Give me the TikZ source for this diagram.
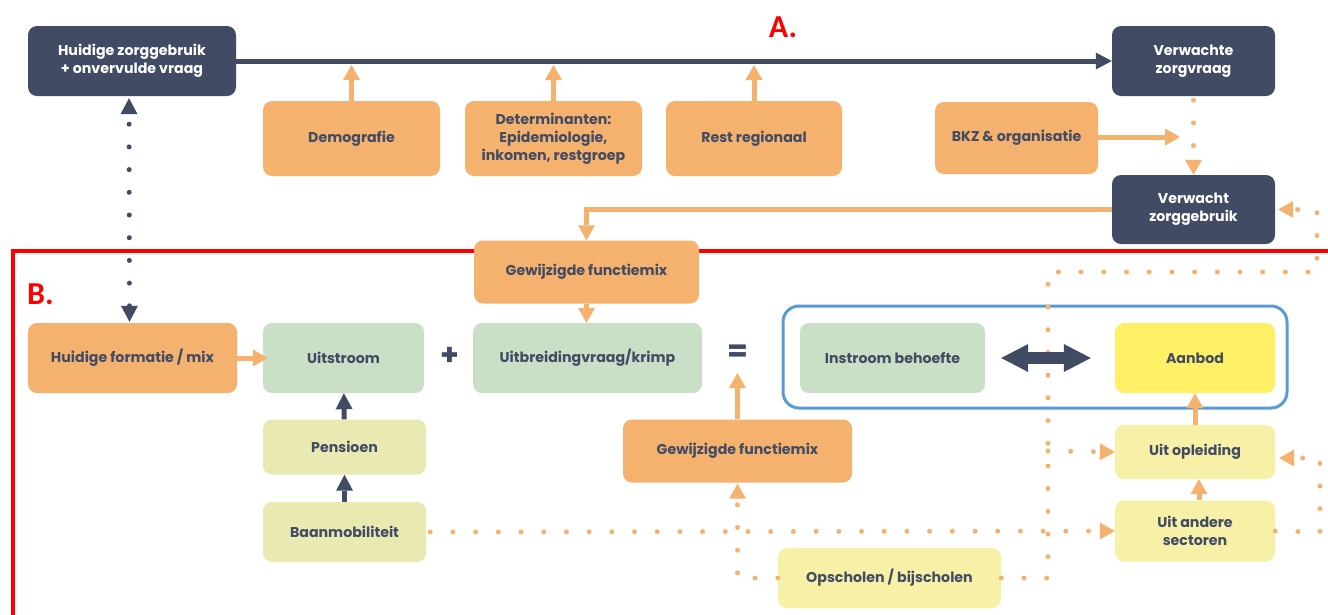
\documentclass[tikz,border=0pt]{standalone}
\usepackage{fontspec}
\setmainfont{Poppins}
\newfontfamily\labfont{Carlito}
\usetikzlibrary{arrows.meta,calc}
\definecolor{navy}{HTML}{414B63}
\definecolor{orng}{HTML}{F5B26F}
\definecolor{grn}{HTML}{C9E0C6}
\definecolor{yel}{HTML}{FFF066}
\definecolor{lyel}{HTML}{F7F1A7}
\definecolor{pyel}{HTML}{E9E9B2}
\definecolor{frameblue}{HTML}{5B9BD5}
\definecolor{redline}{HTML}{FF0000}
\tikzset{
  basebox/.style={rounded corners=9pt, inner sep=0pt, align=center,
    font=\bfseries\fontsize{14.2}{18}\selectfont, text=navy},
  darkbox/.style={basebox, fill=navy, text=white},
  obox/.style={basebox, fill=orng},
  gbox/.style={basebox, fill=grn},
  ybox/.style={basebox, fill=yel},
  lybox/.style={basebox, fill=lyel},
  pbox/.style={basebox, fill=pyel},
  sym/.style={inner sep=0pt, text=navy, font=\bfseries\fontsize{30}{30}\selectfont},
  seclabel/.style={inner sep=0pt, text=redline, font=\labfont\bfseries\fontsize{32}{32}\selectfont},
  otip/.tip={Triangle[length=15pt,width=17pt,line width=0pt]},
  dtip/.tip={Triangle[length=16pt,width=17pt,line width=0pt]},
  oarr/.style={draw=orng, line width=5pt, -{otip}, color=orng},
  darr/.style={draw=navy, line width=5pt, -{dtip}, color=navy},
  odots/.style={draw=orng, color=orng, line width=5pt, line cap=round, dash pattern=on 0pt off 22.7pt},
  ddots/.style={draw=navy, color=navy, line width=5pt, line cap=round, dash pattern=on 0pt off 22.7pt},
}
\begin{document}
\begin{tikzpicture}[x=1pt,y=-1pt]
\useasboundingbox[fill=white] (0,0) rectangle (1328,614);
% red section frame
\draw[redline, line width=4pt] (12.5,616) -- (12.5,250.5) -- (1330,250.5);
% part A
\node[darkbox, minimum width=208, minimum height=70] (hz) at (132,61) {Huidige zorggebruik\\+ onvervulde vraag};
\node[darkbox, minimum width=163, minimum height=70] (vzv) at (1193.5,61) {Verwachte\\zorgvraag};
\node[obox, minimum width=177, minimum height=75] (demo) at (351.5,138.5) {Demografie};
\node[obox, minimum width=177, minimum height=75] (det) at (553.5,138.5) {Determinanten:\\Epidemiologie,\\inkomen, restgroep};
\node[obox, minimum width=176, minimum height=75] (rest) at (754,138.5) {Rest regionaal};
\node[obox, minimum width=163, minimum height=72] (bkz) at (1016.5,138) {BKZ \& organisatie};
\node[darkbox, minimum width=163, minimum height=69] (vzg) at (1193.5,209.5) {Verwacht\\zorggebruik};
\node[seclabel] (A) at (783,27) {A.};
% part B
\node[seclabel, anchor=west] (B) at (27,294) {B.};
\node[obox, minimum width=225, minimum height=63] (gf1) at (586.5,272) {Gewijzigde functiemix};
\node[obox, minimum width=209, minimum height=70] (hf) at (132.5,358) {Huidige formatie / mix};
\node[gbox, minimum width=161, minimum height=70] (uit) at (343.5,358) {Uitstroom};
\node[sym] (plus) at (450,356) {+};
\node[gbox, minimum width=229, minimum height=70] (ubv) at (587.5,358) {Uitbreidingvraag/krimp};
\node[sym] (eq) at (737.5,353) {=};
\node[draw=frameblue, line width=3pt, rounded corners=16pt, minimum width=504, minimum height=102] (frame) at (1035,357) {};
\node[gbox, minimum width=185, minimum height=70] (ib) at (892.5,358) {Instroom behoefte};
\node[ybox, minimum width=160, minimum height=70] (aan) at (1195,358) {Aanbod};
\node[lybox, minimum width=160, minimum height=54] (uo) at (1195,452) {Uit opleiding};
\node[lybox, minimum width=160, minimum height=61] (uas) at (1195,531) {Uit andere\\sectoren};
\node[pbox, minimum width=163, minimum height=55] (pen) at (344.5,447) {Pensioen};
\node[pbox, minimum width=163, minimum height=60] (baan) at (344.5,532) {Baanmobiliteit};
\node[obox, minimum width=229, minimum height=63] (gf2) at (737.5,451) {Gewijzigde functiemix};
\node[lybox, minimum width=223, minimum height=60] (ops) at (889.5,578) {Opscholen / bijscholen};
% helper coordinates
\coordinate (bkzend) at (1180,137);
\coordinate (c1) at (1048,272);
\coordinate (c2) at (1317,272);
\coordinate (c3) at (1048,451);
\coordinate (c4) at (1320,532);
% connectors part A
\draw[darr] (hz) -- (vzv);
\draw[oarr, shorten >=4pt] (demo.north) -- (demo.north |- hz.east);
\draw[oarr, shorten >=4pt] (det.north) -- (det.north |- hz.east);
\draw[oarr, shorten >=4pt] (rest.north) -- (rest.north |- hz.east);
\draw[oarr] (bkz.east |- bkzend) -- (bkzend);
\draw[odots, -{otip}, shorten <=4pt] (vzv.south) -- (vzg.north);
\draw[oarr] (vzg.west) -| (gf1.north);
% connectors part B
\draw[ddots, {dtip}-{dtip}, shorten <=1pt, shorten >=2pt] ([xshift=-3pt]hf.north) -- ([xshift=-3pt]hz.south);
\draw[oarr] (gf1.south) -- (gf1.south |- ubv.north);
\draw[oarr, shorten >=-5pt] (hf) -- (uit);
\draw[darr] (pen) -- (uit);
\draw[darr] (baan) -- (pen);
\draw[oarr] (gf2.north) -- ($(eq.center)+(0,20)$);
\draw[oarr] (uo) -- (aan);
\draw[oarr] ([xshift=4pt]uas.north) -- ([xshift=4pt]uo.south);
\draw[odots, -{otip}, shorten <=4pt] (baan.east) -- (uas.west);
\draw[odots, -{otip}, shorten >=1pt] (ops.west) -| (gf2.south);
\draw[odots, -{otip}, shorten >=3pt] (ops.east) -| (c1) -- (c2) |- (vzg.east);
\draw[odots, -{otip}] (c3) -- (uo.west);
\draw[odots, -{otip}, shorten >=4pt] (uas.east) -- (c4) |- ([yshift=-6pt]uo.east);
\draw[navy, line width=12pt, {Triangle[length=27pt,width=28pt,line width=0pt]}-{Triangle[length=27pt,width=28pt,line width=0pt]}, shorten <=16pt, shorten >=24pt] (ib) -- (aan);
\end{tikzpicture}
\end{document}
